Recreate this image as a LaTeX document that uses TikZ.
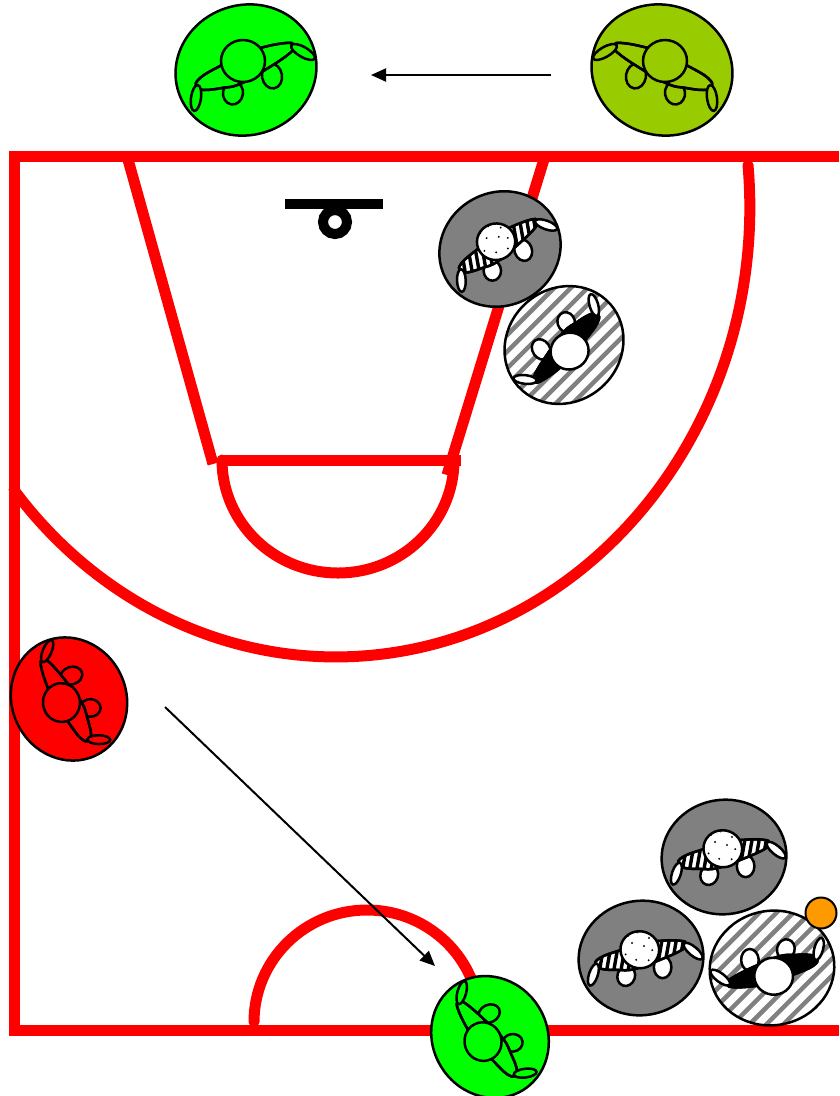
\documentclass[tikz,border=0pt]{standalone}
\usetikzlibrary{arrows.meta}
\definecolor{olive}{HTML}{99CC00}
\definecolor{ballc}{HTML}{FF9900}
\definecolor{midgray}{HTML}{808080}
\tikzset{
  court/.style={draw=red,line width=11pt},
  courtarc/.style={court,line cap=round},
  mv/.style={-{Triangle[length=15pt,width=13pt]},line width=2pt,black},
  ol/.style={draw=black,line width=2.5pt},
  greenp/.style={ol,fill=green},
  olivep/.style={ol,fill=olive},
  redp/.style={ol,fill=red},
  grayp/.style={ol,fill=midgray},
  whitep/.style={ol,fill=white},
  blackp/.style={ol,fill=black},
}
\newcommand\stripehook{}
\newcommand\dothook{}
\newcommand\hatchhook[1]{}
\newcommand\plainhooks{\renewcommand\stripehook{}\renewcommand\dothook{}\renewcommand\hatchhook[1]{}}
\newcommand\detailhooks{%
  \renewcommand\stripehook{\foreach \sx in {-60,-52,...,60}{\draw[line width=3.4pt] (\sx,-40)--(\sx,40);}}%
  \renewcommand\dothook{\foreach \dx/\dy in {-16/-13,-6/-19,8/-15,-10/-6,4/-5,14/-2,-15/8,-2/12,12/10}{\fill[black] (\dx,\dy) circle (1.2);}}}
\newcommand\hatchhooks{%
  \renewcommand\hatchhook[1]{\begin{scope}[rotate=45-##1]\foreach \hy in {-8,-7,...,8}{\draw[midgray,line width=4.5pt] (-110,\hy*13.6)--(110,\hy*13.6);}\end{scope}}}
\newcommand\bodyshape{plot[smooth cycle,tension=0.75] coordinates{(-50,17) (-46,8) (-26,-4) (0,-17) (18,-23) (40,-27) (48,-25) (44,-17) (19,0) (-6,14) (-24,18) (-42,20)}}
\newcommand\outershape{[rotate=18] (0,0) ellipse (71 and 65)}
\newcommand\player[9]{%
  \begin{scope}[shift={(#2,#3)},rotate=#4,xscale=#5,scale=#6]
    \coordinate (#1) at (0,0);
    \path[#7,draw=none] \outershape;
    \begin{scope}\clip \outershape; \hatchhook{#4}\end{scope}
    \path[draw=black,line width=2.5pt] \outershape;
    \path[#9,shift={(-13,23)},rotate=-8] (0,0) ellipse (10 and 11.5);
    \path[#9,shift={(26,6)},rotate=10] (0,0) ellipse (10 and 12.5);
    \path[#8] \bodyshape;
    \begin{scope}\clip \bodyshape; \stripehook \end{scope}
    \path[draw=black,line width=2.5pt] \bodyshape;
    \path[#9,shift={(-50,28)},rotate=-8] (0,0) ellipse (5 and 13);
    \path[#9,shift={(57,-18)},rotate=-30] (0,0) ellipse (13.5 and 5);
    \path[#9,shift={(-3,-9)}] (0,0) ellipse (22 and 21);
    \begin{scope}[shift={(-3,-9)}]\clip (0,0) ellipse (21 and 20); \dothook \end{scope}
  \end{scope}}
\begin{document}
\begin{tikzpicture}[x=1pt,y=-1pt]
\useasboundingbox (0,0) rectangle (839,1096);
% court
\path[court,line join=miter] (839,156) -- (14,156) -- (14,1030) -- (839,1030);
\path[court] (127,156) -- (213,464);
\path[court] (545,156) -- (447,475);
\path[court] (220,460) -- (461,460);
\path[courtarc] (222,460) arc[start angle=180,end angle=0,x radius=116,y radius=113];
\path[courtarc] (748,165) arc[start angle=-5.35,end angle=141,x radius=414,y radius=450];
\path[courtarc] (254,1022) arc[start angle=180,end angle=340,x radius=113,y radius=112];
% backboard and hoop
\fill[black] (285,199) rectangle (383,209);
\node[circle,draw=black,line width=10pt,fill=white,minimum size=24pt,inner sep=0pt] (hoop) at (335,222) {};
% players
\plainhooks
\player{pa}{246}{70}{0}{1}{1}{greenp}{greenp}{greenp}
\player{pb}{662}{70}{0}{-1}{1}{olivep}{olivep}{olivep}
\player{pc}{69}{699}{97}{1}{0.88}{redp}{redp}{redp}
\player{pd}{490}{1037}{105}{1}{0.88}{greenp}{greenp}{greenp}
\detailhooks
\player{pe}{500}{249}{10}{1}{0.87}{grayp}{whitep}{whitep}
\player{pf}{724}{857}{-10}{1}{0.88}{grayp}{whitep}{whitep}
\player{pg}{641}{958}{-10}{1}{0.88}{grayp}{whitep}{whitep}
\plainhooks
\hatchhooks
\player{ph}{564}{345}{204}{1}{0.87}{whitep}{blackp}{whitep}
\player{pi}{772}{968}{173}{1}{0.88}{whitep}{blackp}{whitep}
% ball
\node[circle,draw=black,line width=2pt,fill=ballc,minimum size=31pt,inner sep=0pt] (ball) at (821,913) {};
% arrows
\coordinate (a1) at (551,75);
\coordinate (a2) at (371,75);
\coordinate (b1) at (165,707);
\coordinate (b2) at (435,966);
\draw[mv] (a1) -- (a2);
\draw[mv] (b1) -- (b2);
\end{tikzpicture}
\end{document}
